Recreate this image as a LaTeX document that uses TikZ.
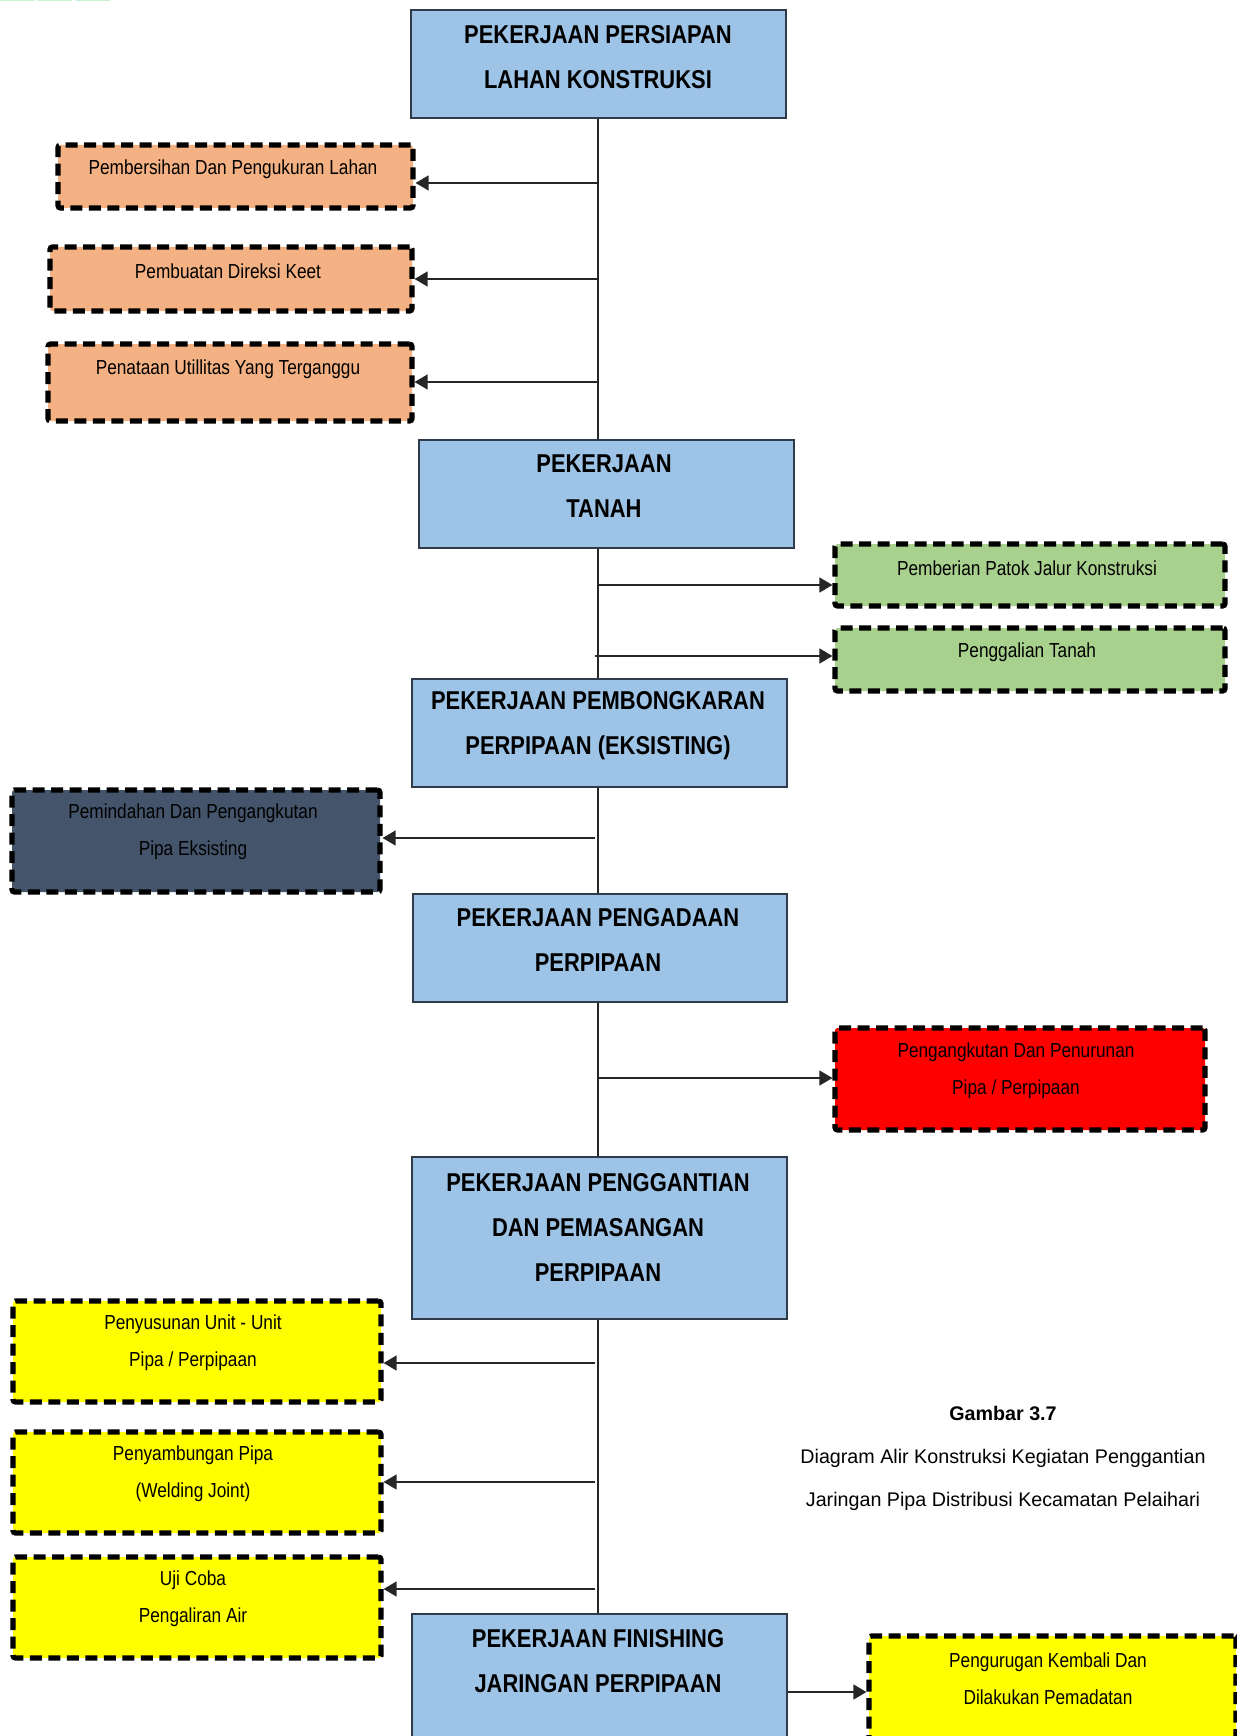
\documentclass[tikz,border=0pt]{standalone}
\usepackage{fontspec}
\setmainfont{Liberation Sans}[FakeStretch=0.85]
\newfontfamily\capfont{Liberation Sans}
\usetikzlibrary{arrows.meta,calc}
\definecolor{mainblue}{HTML}{9DC3E6}
\definecolor{borange}{HTML}{F4B183}
\definecolor{bgreen}{HTML}{A9D18E}
\definecolor{bslate}{HTML}{44546A}
\definecolor{bred}{HTML}{FF0000}
\definecolor{byellow}{HTML}{FFFF00}
\definecolor{mainedge}{HTML}{2F3B48}
\definecolor{stripgreen}{HTML}{C6EFCE}
\tikzset{
  mainbox/.style={draw=mainedge, line width=1.4pt, fill=mainblue, inner sep=0pt},
  sidebox/.style={draw=black, line width=5.2pt, dash pattern=on 12pt off 6.5pt, rounded corners=2.5pt, inner sep=0pt},
  maintxt/.style={font=\fontsize{25.8}{45}\selectfont\bfseries, align=center, inner sep=0pt},
  sidetxt/.style={font=\fontsize{20.3}{37}\selectfont, align=center, inner sep=0pt},
  captxt/.style={font=\capfont\fontsize{19.7}{43}\selectfont, align=center, inner sep=0pt},
  conn/.style={draw=black!85, line width=1.3pt},
  arr/.style={conn, -{Triangle[length=13pt,width=15pt]}},
}
\newcommand{\boxat}[6]{% name, style, x1, y1, x2, y2
  \node[#2, minimum width={(#5-#3)*1pt}, minimum height={(#6-#4)*1pt}] (#1) at ({(#3+#5)/2}, {(#4+#6)/2}) {};}
\begin{document}
\begin{tikzpicture}[x=1pt,y=-1pt]
\useasboundingbox (0,0) rectangle (1236,1736);
% top-left strips
\foreach \a/\b in {0/35,38/72,76/110}{\fill[stripgreen] (\a,0) rectangle (\b,1.5);}
% main boxes
\boxat{b1}{mainbox}{411}{10}{786}{118}
\boxat{b2}{mainbox}{419}{440}{794}{548}
\boxat{b3}{mainbox}{412}{679}{787}{787}
\boxat{b4}{mainbox}{413}{894}{787}{1002}
\boxat{b5}{mainbox}{412}{1157}{787}{1319}
\boxat{b6}{mainbox}{412}{1614}{787}{1745}
\node[maintxt] (t1) at (598,57) {PEKERJAAN PERSIAPAN\\LAHAN KONSTRUKSI};
\node[maintxt] (t2) at (604,486) {PEKERJAAN\\TANAH};
\node[maintxt] (t3) at (598,726) {PEKERJAAN PEMBONGKARAN\\PERPIPAAN (EKSISTING)};
\node[maintxt] (t4) at (598,940) {PEKERJAAN PENGADAAN\\PERPIPAAN};
\node[maintxt] (t5) at (598,1227) {PEKERJAAN PENGGANTIAN\\DAN PEMASANGAN\\PERPIPAAN};
\node[maintxt] (t6) at (598,1661) {PEKERJAAN FINISHING\\JARINGAN PERPIPAAN};
% side boxes
\boxat{s1}{sidebox, fill=borange}{58}{145}{413}{208}
\boxat{s2}{sidebox, fill=borange}{50}{247}{412}{311}
\boxat{s3}{sidebox, fill=borange}{48}{344}{412}{421}
\boxat{g1}{sidebox, fill=bgreen}{835}{544}{1225}{606}
\boxat{g2}{sidebox, fill=bgreen}{835}{628}{1225}{691}
\boxat{d1}{sidebox, fill=bslate}{12}{790}{380}{892}
\boxat{r1}{sidebox, fill=bred}{835}{1028}{1205}{1130}
\boxat{y1}{sidebox, fill=byellow}{13}{1301}{381}{1402}
\boxat{y2}{sidebox, fill=byellow}{13}{1432}{381}{1533}
\boxat{y3}{sidebox, fill=byellow}{13}{1557}{381}{1658}
\boxat{y4}{sidebox, fill=byellow}{869}{1636}{1236}{1750}
\node[sidetxt] (ts1) at (233,169) {Pembersihan Dan Pengukuran Lahan};
\node[sidetxt] (ts2) at (228,271) {Pembuatan Direksi Keet};
\node[sidetxt] (ts3) at (228,369) {Penataan Utillitas Yang Terganggu};
\node[sidetxt] (tg1) at (1027,568) {Pemberian Patok Jalur Konstruksi};
\node[sidetxt] (tg2) at (1027,652) {Penggalian Tanah};
\node[sidetxt] (td1) at (193,832) {Pemindahan Dan Pengangkutan\\Pipa Eksisting};
\node[sidetxt] (tr1) at (1016,1071) {Pengangkutan Dan Penurunan\\Pipa / Perpipaan};
\node[sidetxt] (ty1) at (193,1343) {Penyusunan Unit - Unit\\Pipa / Perpipaan};
\node[sidetxt] (ty2) at (193,1474) {Penyambungan Pipa\\(Welding Joint)};
\node[sidetxt] (ty3) at (193,1599) {Uji Coba\\Pengaliran Air};
\node[sidetxt] (ty4) at (1048,1679) {Pengurugan Kembali Dan\\Dilakukan Pemadatan};
% caption
\node[captxt] (cap) at (1003,1458) {\textbf{Gambar 3.7}\\Diagram Alir Konstruksi Kegiatan Penggantian\\Jaringan Pipa Distribusi Kecamatan Pelaihari};
% spine
\coordinate (sx) at (598,0);
\draw[conn] (b1.south -| sx) -- (b2.north -| sx);
\draw[conn] (b2.south -| sx) -- (b3.north -| sx);
\draw[conn] (b3.south -| sx) -- (b4.north -| sx);
\draw[conn] (b4.south -| sx) -- (b5.north -| sx);
\draw[conn] (b5.south -| sx) -- (b6.north -| sx);
% branch points
\coordinate (p1) at (598,183);
\coordinate (p2) at (598,279);
\coordinate (p3) at (598,382);
\coordinate (q1) at (598,585);
\coordinate (q2) at (595,656);
\coordinate (p4) at (595,838);
\coordinate (q3) at (598,1078);
\coordinate (p5) at (595,1363);
\coordinate (p6) at (595,1482);
\coordinate (p7) at (595,1589);
\coordinate (q4) at (787,1692);
\draw[arr] (p1) -- (s1.east |- p1);
\draw[arr] (p2) -- (s2.east |- p2);
\draw[arr] (p3) -- (s3.east |- p3);
\draw[arr] (q1) -- (g1.west |- q1);
\draw[arr] (q2) -- (g2.west |- q2);
\draw[arr] (p4) -- (d1.east |- p4);
\draw[arr] (q3) -- (r1.west |- q3);
\draw[arr] (p5) -- (y1.east |- p5);
\draw[arr] (p6) -- (y2.east |- p6);
\draw[arr] (p7) -- (y3.east |- p7);
\draw[arr] (b6.east |- q4) -- (y4.west |- q4);
\end{tikzpicture}
\end{document}
